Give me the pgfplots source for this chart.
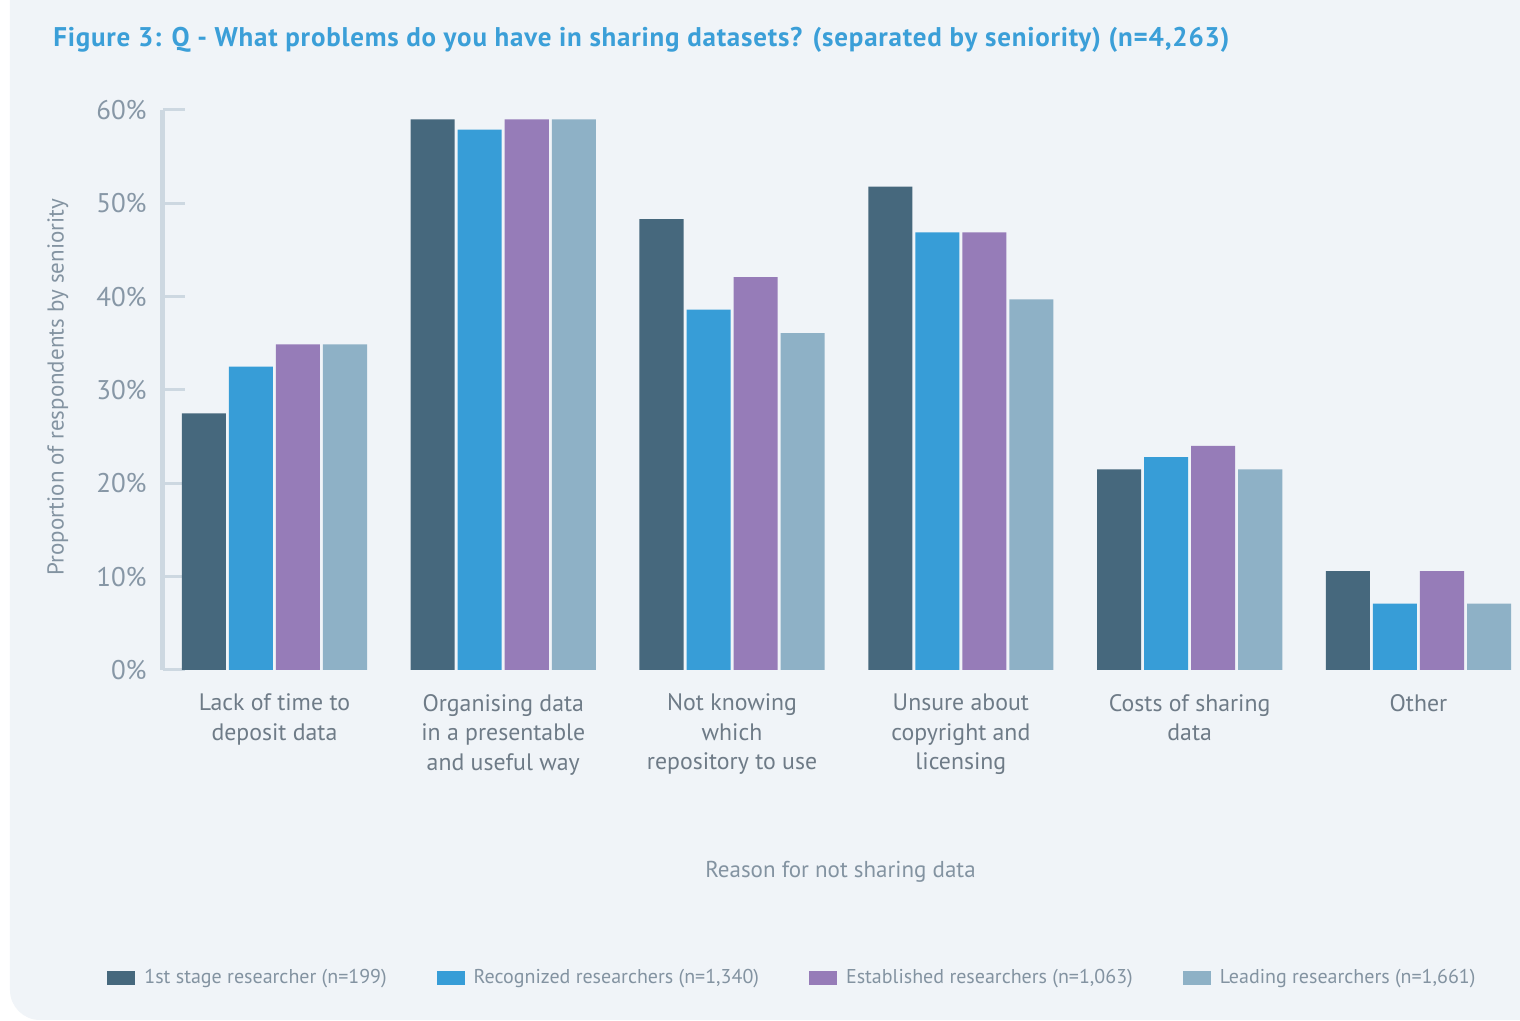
\documentclass[border=0pt]{standalone}
\usepackage{pgfplots}
\pgfplotsset{compat=1.18}
\usepackage{fontspec}
\setmainfont{PT Sans}
\newfontfamily\titlefont{PT Sans}[LetterSpace=2.9]
\definecolor{bg}{HTML}{F0F4F8}
\definecolor{cdark}{HTML}{46687D}
\definecolor{cblue}{HTML}{379DD7}
\definecolor{cpurple}{HTML}{967CB8}
\definecolor{clight}{HTML}{8EB1C6}
\definecolor{titlecol}{HTML}{3B9FD8}
\definecolor{axiscol}{HTML}{CDD8E1}
\definecolor{ticktext}{HTML}{8797A6}
\definecolor{cattext}{HTML}{6E7B87}
\definecolor{labtext}{HTML}{8393A1}
\begin{document}
\begin{tikzpicture}[x=1pt,y=1pt]
\useasboundingbox (-81.5,-175.5) rectangle (678.5,335);
\fill[white] (-81.5,-175.5) rectangle (678.5,335);
\begin{scope}
\clip (-81.5,-175.5) rectangle (678.5,335);
\fill[bg, rounded corners=15pt] (-76.5,-175) rectangle (720,380);
\end{scope}
\node[anchor=west, inner sep=0pt, text=titlecol, font=\titlefont\fontsize{13.5}{16}\selectfont\bfseries] at (-55,315) {Figure 3: Q - What problems do you have in sharing datasets? (separated by seniority) (n=4,263)};
\begin{axis}[
  scale only axis, width=673.5pt, height=280pt,
  xmin=-0.487, xmax=5.40, ymin=0, ymax=60,
  axis lines=left,
  x axis line style={draw=none},
  y axis line style={draw=axiscol, line width=2.5pt, -},
  xtick={0,1,2,3,4,5},
  xticklabels={{Lack of time to\\deposit data},{Organising data\\in a presentable\\and useful way},{Not knowing\\which\\repository to use},{Unsure about\\copyright and\\licensing},{Costs of sharing\\data},{Other}},
  x tick style={draw=none},
  x tick label style={align=center, anchor=north, yshift=-8.5pt, text=cattext, font=\fontsize{11.9}{14.75}\selectfont},
  ytick={0,10,20,30,40,50,60},
  yticklabel={\pgfmathprintnumber{\tick}\%},
  /pgf/number format/assume math mode=true,
  y tick style={draw=axiscol, line width=1.5pt},
  tick align=inside,
  major tick length=11pt,
  y tick label style={anchor=east, inner sep=0pt, xshift=-8pt, text=ticktext, font=\fontsize{13.5}{15}\selectfont},
  xlabel={Reason for not sharing data},
  xlabel style={at={(axis description cs:0.503,-0.36)}, anchor=center, text=labtext, font=\fontsize{11.5}{13}\selectfont},
  ylabel={Proportion of respondents by seniority},
  ylabel style={at={(axis description cs:-0.078,0.505)}, anchor=center, text=labtext, font=\fontsize{11.5}{13}\selectfont},
  bar width=0.1925,
  legend columns=4,
  legend style={at={(axis description cs:-0.046,-0.55)}, anchor=west, draw=none, fill=none,
    font=\fontsize{10}{11}\selectfont, text=labtext,
    /tikz/every even column/.append style={column sep=23pt},
    /tikz/every odd column/.append style={column sep=2.5pt},
    nodes={inner sep=2pt}},
  clip=false,
]
\addplot[ybar, fill=cdark, draw=none, bar shift=-0.3084, legend image code/.code={\fill[cdark] (0pt,-3.3pt) rectangle (14pt,3.3pt);}] coordinates {(0,27.5) (1,59.0) (2,48.3) (3,51.8) (4,21.5) (5,10.6)};
\addplot[ybar, fill=cblue, draw=none, bar shift=-0.1028, legend image code/.code={\fill[cblue] (0pt,-3.3pt) rectangle (14pt,3.3pt);}] coordinates {(0,32.5) (1,57.9) (2,38.6) (3,46.9) (4,22.8) (5,7.1)};
\addplot[ybar, fill=cpurple, draw=none, bar shift=0.1028, legend image code/.code={\fill[cpurple] (0pt,-3.3pt) rectangle (14pt,3.3pt);}] coordinates {(0,34.9) (1,59.0) (2,42.1) (3,46.9) (4,24.0) (5,10.6)};
\addplot[ybar, fill=clight, draw=none, bar shift=0.3084, legend image code/.code={\fill[clight] (0pt,-3.3pt) rectangle (14pt,3.3pt);}] coordinates {(0,34.9) (1,59.0) (2,36.1) (3,39.7) (4,21.5) (5,7.1)};
\legend{{1st stage researcher (n=199)},{Recognized researchers (n=1,340)},{Established researchers (n=1,063)},{Leading researchers (n=1,661)}}
\end{axis}
\end{tikzpicture}
\end{document}
